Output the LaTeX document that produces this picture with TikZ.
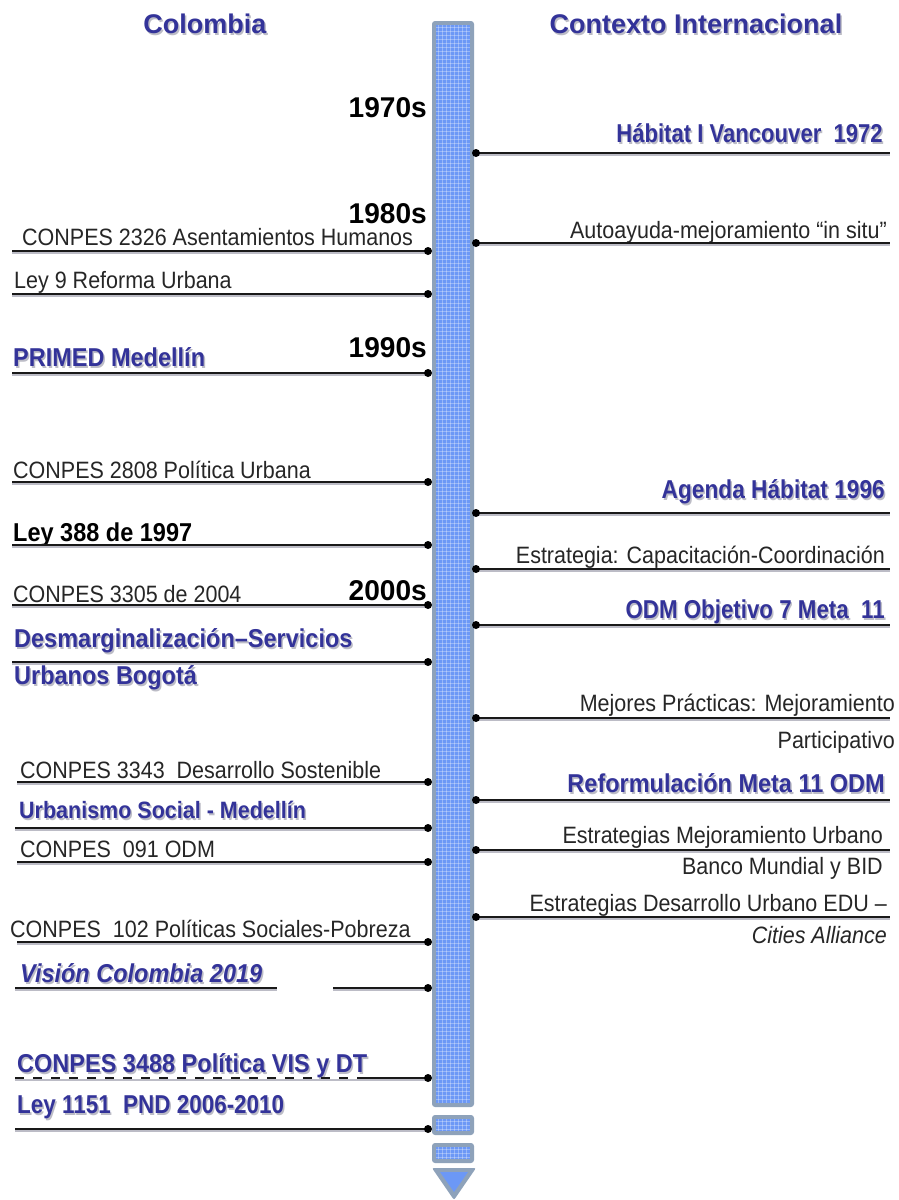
\documentclass[tikz,border=0pt]{standalone}
\usepackage{fontspec}
\setmainfont{Liberation Sans}
\usepackage{graphicx}
\definecolor{tblue}{RGB}{51,51,153}
\definecolor{shgray}{RGB}{188,188,198}
\definecolor{barblue}{RGB}{108,152,246}
\definecolor{barrim}{RGB}{142,162,186}
\newcommand{\sx}[2][1]{\scalebox{#1}[1.1]{#2}}
\newcommand{\sh}[1]{\rlap{\hspace{1.5pt}\raisebox{-2.2pt}{\textcolor{shgray}{#1}}}#1}
\newcommand{\twol}[3]{\begin{tabular}[t]{@{}#1@{}}#2\\#3\end{tabular}}
\begin{document}
\begin{tikzpicture}[x=1pt,y=-1pt,
  reg/.style={inner sep=0pt, text=black!85, font=\fontsize{21.5}{32}\selectfont},
  bb/.style={inner sep=0pt, text=tblue, font=\fontsize{23.5}{33}\selectfont\bfseries},
  blk/.style={inner sep=0pt, text=black, font=\fontsize{23.5}{28}\selectfont\bfseries},
  hdr/.style={inner sep=0pt, text=tblue, font=\fontsize{27}{32}\selectfont\bfseries},
  dec/.style={inner sep=0pt, text=black, font=\fontsize{26}{30}\selectfont\bfseries},
  evline/.style={draw=black!90, line width=1.6pt,
     preaction={draw=shgray, line width=1.6pt, transform canvas={yshift=-2pt}}},
  gridl/.style={draw=white, opacity=0.3, line width=0.7pt},
  dotc/.style={fill=black},
]
\useasboundingbox (0,0) rectangle (898,1200);
\fill[white] (0,0) rectangle (898,1200);

% ---------- headers ----------
\node[hdr, anchor=base] (hcol) at (205,33) {\sh{Colombia}};
\node[hdr, anchor=base] (hint) at (696,33) {\sh{Contexto Internacional}};

% ---------- timeline bar ----------
\fill[barrim, rounded corners=3pt] (432,21) rectangle (474,1107);
\fill[barblue] (436,25) rectangle (470,1103);
\foreach \x in {438,442,...,468} \draw[gridl] (\x,25) -- (\x,1103);
\foreach \y in {27,31,...,1101} \draw[gridl] (436,\y) -- (470,\y);
\fill[barrim, rounded corners=3pt] (432,1115) rectangle (474,1135);
\fill[barblue] (436,1119) rectangle (470,1131);
\foreach \x in {438,442,...,468} \draw[gridl] (\x,1119) -- (\x,1131);
\foreach \y in {1121,1125,1129} \draw[gridl] (436,\y) -- (470,\y);
\fill[barrim, rounded corners=3pt] (432,1143) rectangle (474,1163);
\fill[barblue] (436,1147) rectangle (470,1159);
\foreach \x in {438,442,...,468} \draw[gridl] (\x,1147) -- (\x,1159);
\foreach \y in {1149,1153,1157} \draw[gridl] (436,\y) -- (470,\y);
\fill[barrim, rounded corners=2pt] (432,1168) -- (476,1168) -- (454,1200) -- cycle;
\fill[barblue] (440,1172) -- (468,1172) -- (454,1192) -- cycle;

% ---------- decades ----------
\node[dec, anchor=base east] (d70) at (427,117) {\sx[1.08]{1970s}};
\node[dec, anchor=base east] (d80) at (427,223) {\sx[1.08]{1980s}};
\node[dec, anchor=base east] (d90) at (427,357) {\sx[1.08]{1990s}};
\node[dec, anchor=base east] (d00) at (427,600) {\sx[1.08]{2000s}};

% ---------- Colombia (left) ----------
\foreach \n/\xs/\yy in {1/12/251, 2/12/294, 3/12/373, 4/12/482, 5/12/545, 6/12/605,
   7/12/662, 8/17/782, 9/15/828, 10/17/862, 11/17/942, 13/15/1078, 14/15/1129}{
  \coordinate (ls\n) at (\xs,\yy);
  \coordinate (ld\n) at (428,\yy);
}
\coordinate (ls12) at (15,988);
\coordinate (lm12a) at (277,988);
\coordinate (lm12b) at (333,988);
\coordinate (ld12) at (428,988);
\coordinate (lm13) at (365,1078);

\node[reg, anchor=base west] (t1) at (22,245) {\sx{CONPES 2326 Asentamientos Humanos}};
\node[reg, anchor=base west] (t2) at (14,288) {\sx{Ley 9 Reforma Urbana}};
\node[bb, anchor=base west] (t3) at (13,366) {\sx{\sh{PRIMED Medellín}}};
\node[reg, anchor=base west] (t4) at (13,478) {\sx{CONPES 2808 Política Urbana}};
\node[blk, anchor=base west] (t5) at (13,541) {\sx{Ley 388 de 1997}};
\node[reg, anchor=base west] (t6) at (13,602) {\sx{CONPES 3305 de 2004}};
\node[bb, anchor=base west, font=\fontsize{23.5}{37}\selectfont\bfseries] (t7) at (14,647)
  {\twol{l}{\sx{\sh{Desmarginalización–Servicios}}}{\sx{\sh{Urbanos Bogotá}}}};
\node[reg, anchor=base west] (t8) at (20,778) {\sx{CONPES 3343\ \ Desarrollo Sostenible}};
\node[bb, anchor=base west, font=\fontsize{21.5}{26}\selectfont\bfseries] (t9) at (19,818)
  {\sx{\sh{Urbanismo Social - Medellín}}};
\node[reg, anchor=base west] (t10) at (20,857) {\sx{CONPES\ \ 091 ODM}};
\node[reg, anchor=base west] (t11) at (10,937) {\sx{CONPES\ \ 102 Políticas Sociales-Pobreza}};
\node[bb, anchor=base west] (t12) at (20,982) {\sx{\sh{\itshape Visión Colombia 2019}}};
\node[bb, anchor=base west] (t13) at (17,1072) {\sx{\sh{CONPES 3488 Política VIS y DT}}};
\node[bb, anchor=base west] (t14) at (17,1113) {\sx[0.955]{\sh{Ley 1151\ \ PND 2006-2010}}};

\foreach \n in {1,2,3,4,5,6,7,8,9,10,11,14}{
  \draw[evline] (ls\n) -- (ld\n);
}
\draw[evline] (ls12) -- (lm12a);
\draw[evline] (lm12b) -- (ld12);
\draw[evline, dash pattern=on 9pt off 9pt] (ls13) -- (lm13);
\draw[evline] (lm13) -- (ld13);
\foreach \n in {1,...,14}{ \fill[dotc] (ld\n) circle (4pt); }

% ---------- Contexto Internacional (right) ----------
\foreach \n/\yy in {1/153, 2/243, 3/513, 4/569, 5/625, 6/718, 7/800, 8/850, 9/917}{
  \coordinate (rd\n) at (476,\yy);
  \coordinate (re\n) at (890,\yy);
}
\node[bb, anchor=base east] (u1) at (883,142) {\sx[0.94]{\sh{Hábitat I Vancouver\ \ 1972}}};
\node[reg, anchor=base east] (u2) at (887,238) {\sx{Autoayuda-mejoramiento “in situ”}};
\node[bb, anchor=base east] (u3) at (885,498) {\sx[0.965]{\sh{Agenda Hábitat 1996}}};
\node[reg, anchor=base east] (u4) at (885,563) {\sx{Estrategia: Capacitación-Coordinación}};
\node[bb, anchor=base east] (u5) at (885,618) {\sx[0.95]{\sh{ODM Objetivo 7 Meta\ \ 11}}};
\node[reg, anchor=base east, font=\fontsize{21.5}{37}\selectfont] (u6) at (895,711)
  {\twol{r}{\sx{Mejores Prácticas: Mejoramiento}}{\sx{Participativo}}};
\node[bb, anchor=base east] (u7) at (885,792) {\sx{\sh{Reformulación Meta 11 ODM}}};
\node[reg, anchor=base east, font=\fontsize{21.5}{31}\selectfont] (u8) at (883,843)
  {\twol{r}{\sx{Estrategias Mejoramiento Urbano}}{\sx{Banco Mundial y BID}}};
\node[reg, anchor=base east, font=\fontsize{21.5}{32}\selectfont] (u9) at (887,911)
  {\twol{r}{\sx{Estrategias Desarrollo Urbano EDU –}}{\sx{\itshape Cities Alliance}}};

\foreach \n in {1,...,9}{
  \draw[evline] (rd\n) -- (re\n);
  \fill[dotc] (rd\n) circle (4pt);
}
\end{tikzpicture}
\end{document}
